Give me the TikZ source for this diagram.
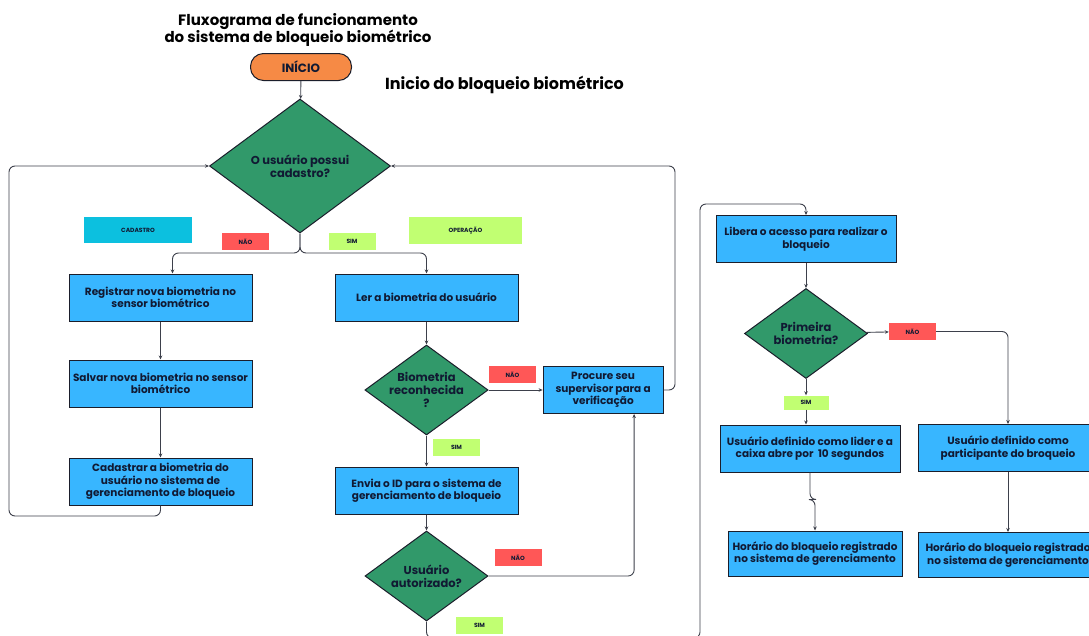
\documentclass[tikz,border=0pt]{standalone}
\usepackage{fontspec}
\setmainfont{Poppins}
\usepackage{tikz}
\usetikzlibrary{positioning}
\usetikzlibrary{shapes.geometric}
\usetikzlibrary{arrows.meta}

\definecolor{azulcx}{HTML}{38B6FF}
\definecolor{verdecx}{HTML}{31996A}
\definecolor{laranja}{HTML}{F68A45}
\definecolor{vermelho}{HTML}{FF5757}
\definecolor{lima}{HTML}{C1FF72}
\definecolor{ciano}{HTML}{0CC0DF}
\definecolor{borda}{HTML}{1B1E2B}
\definecolor{tinta}{HTML}{111A33}

\begin{document}
\begin{tikzpicture}[x=1pt, y=-1pt]

        \def\d{38pt}
        \def\h{23pt}

        % Estilos das caixas, decisoes e etiquetas
        \tikzset{
            caixa/.style={draw=borda, fill=azulcx, line width=1pt,
                minimum width=183pt, minimum height=47pt, inner sep=0pt,
                align=center, text=tinta,
                font=\fontsize{10.5}{12.5}\selectfont\bfseries},
            decisao/.style={diamond, draw=borda, fill=verdecx, line width=1pt,
                aspect=1.37, inner sep=0pt, minimum width=123pt,
                minimum height=90pt, align=center, text=tinta,
                font=\fontsize{11.5}{13}\selectfont\bfseries},
            rotulo/.style={minimum width=47pt, minimum height=17pt,
                inner sep=0pt, text=tinta,
                font=\fontsize{6}{7}\selectfont\bfseries},
            seta/.style={draw=borda!85, line width=0.9pt, rounded corners=6pt,
                -{Stealth[length=4pt, width=3.5pt]}}
        }

        \clip (0,0) rectangle (1089,635);
        \fill[white] (0,0) rectangle (1089,635);

        % Titulos
        \node (titulo) [align=center, text=black,
            font=\fontsize{15}{17}\selectfont\bfseries] at (298,30)
            {Fluxograma de funcionamento\\do sistema de bloqueio biom\'etrico};
        \node (subtitulo) [text=black,
            font=\fontsize{16}{18}\selectfont\bfseries] at (504.5,85)
            {Inicio do bloqueio biom\'etrico};
        \node (inicio) [draw=borda, fill=laranja, line width=1pt,
            rounded corners=13pt, minimum width=101pt, minimum height=27pt,
            text=tinta, font=\fontsize{12}{14}\selectfont\bfseries]
            at (301,67) {IN\'ICIO};

        % Lado do cadastro
        \node (cad) [decisao, minimum width=181pt, minimum height=134pt]
            at (300,166) {O usu\'ario possui\\cadastro?};
        \node (reg) [caixa] at (160.5,297.5)
            {Registrar nova biometria no\\sensor biom\'etrico};
        \node (salvar) [caixa, below=\d of reg]
            {Salvar nova biometria no sensor\\biom\'etrico};
        \node (cadbio) [caixa, below=50pt of salvar]
            {Cadastrar a biometria do\\usu\'ario no sistema de\\gerenciamento de bloqueio};

        % Lado da operacao
        \node (ler) [caixa] at (426.5,297.5) {Ler a biometria do usu\'ario};
        \node (reconh) [decisao, below=\h of ler]
            {Biometria\\reconhecida\\?};
        \node (procure) [caixa, minimum width=120pt, right=54pt of reconh]
            {Procure seu\\supervisor para a\\verifica\c{c}\~ao};
        \node (envia) [caixa, below=31pt of reconh]
            {Envia o ID para o sistema de\\gerenciamento de bloqueio};
        \node (autoriz) [decisao, below=16pt of envia]
            {Usu\'ario\\autorizado?};

        % Bloqueio
        \node (libera) [caixa, minimum width=180pt] at (806,239)
            {Libera o acesso para realizar o\\bloqueio};
        \node (primeira) [decisao, below=25pt of libera]
            {Primeira\\biometria?};
        \node (lider) [caixa, minimum width=180pt] at (810,448.5)
            {Usu\'ario definido como lider e a\\caixa abre por\ \ 10 segundos};
        \node (particip) [caixa, minimum width=180pt] at (1008,448)
            {Usu\'ario definido como\\participante do broqueio};
        \node (hor1) [caixa, minimum width=174pt, minimum height=45pt]
            at (815,553.5)
            {Hor\'ario do bloqueio registrado\\no sistema de gerenciamento};
        \node (hor2) [caixa, minimum width=180pt, minimum height=45pt,
            below=60pt of particip]
            {Hor\'ario do bloqueio registrado\\no sistema de gerenciamento};

        % Etiquetas
        \node (tcad) [rotulo, fill=ciano, minimum width=108pt,
            minimum height=26pt] at (138,230) {CADASTRO};
        \node (toper) [rotulo, fill=lima, minimum width=113pt,
            minimum height=27pt] at (465.5,230.5) {OPERA\c{C}\~AO};
        \node (tnao1) [rotulo, fill=vermelho] at (245.5,241.5) {N\~AO};
        \node (tsim1) [rotulo, fill=lima] at (352,241.5) {SIM};
        \node (tnao2) [rotulo, fill=vermelho] at (512.5,374.5) {N\~AO};
        \node (tsim2) [rotulo, fill=lima] at (456.5,447) {SIM};
        \node (tnao3) [rotulo, fill=vermelho] at (518,557.5) {N\~AO};
        \node (tsim3) [rotulo, fill=lima] at (479.5,625) {SIM};
        \node (tnao4) [rotulo, fill=vermelho] at (912.5,331.5) {N\~AO};
        \node (tsim4) [rotulo, fill=lima, minimum width=45pt,
            minimum height=14pt] at (806,402.5) {SIM};

        \coordinate (garfo) at (300,253);

        \begin{scope}[seta]
            \draw (inicio) -- (cad);
            \draw (cad.south) -- (garfo) -| ([xshift=12pt]reg.north);
            \draw (cad.south) -- (garfo) -| (ler.north);
            \draw (reg) -- (salvar);
            \draw (salvar) -- (cadbio);
            \draw (cadbio.south) |- (9,516) |- (cad.west);

            \draw (ler) -- (reconh);
            \draw (reconh) -- (procure);
            \draw (reconh) -- (envia);
            \draw (procure.east) -| (675,166) -- (cad.east);
            \draw (envia) -- (autoriz);
            \draw (autoriz.east) -| ([xshift=31pt]procure.south);
            \draw (autoriz.south) |- (700,638) -- (700,204) -| (libera.north);

            \draw (libera) -- (primeira);
            \draw (primeira) -- (tnao4);
            \draw (tnao4) -| (particip);
            \draw (primeira) -- (tsim4);
            \draw (tsim4) -- (tsim4 |- lider.north);
            \draw (lider.south) -- ++(0,27) -| (hor1.north);
            \draw (particip) -- (hor2);
        \end{scope}

        \end{tikzpicture}
\end{document}
